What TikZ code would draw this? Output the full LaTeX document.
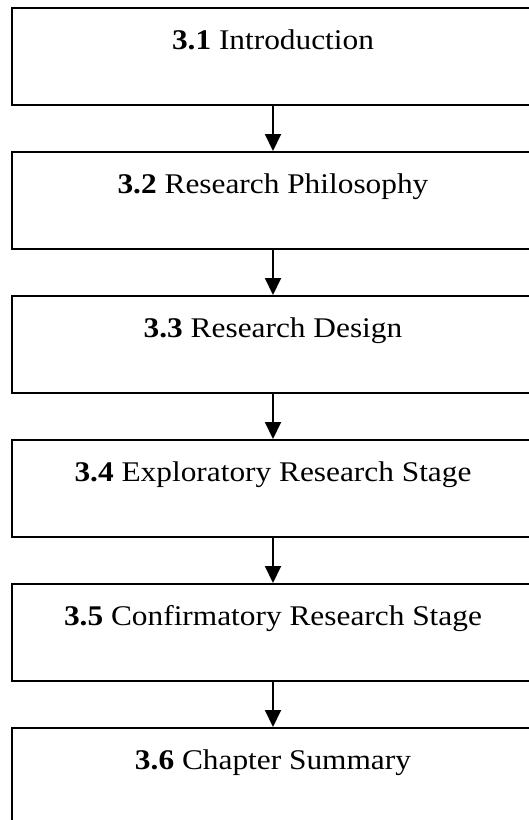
\documentclass[tikz,border=0pt]{standalone}
\usepackage{fontspec}
\setmainfont[FakeStretch=1.1]{Liberation Serif}
\usetikzlibrary{arrows.meta}
\begin{document}
\begin{tikzpicture}[x=1pt,y=-1pt,
  stagebox/.style={draw, line width=2pt, rectangle, inner sep=0pt,
    minimum width=522pt, minimum height=97pt,
    text height=41pt, text depth=56pt, anchor=north,
    font=\fontsize{28.5}{32}\selectfont},
  flow/.style={line width=2pt, -{Triangle[width=16pt,length=17pt]}}]
\useasboundingbox (0,0) rectangle (529,820);
\clip (0,0) rectangle (529,820);
\node[stagebox] (s1) at (273,7)   {\textbf{3.1} Introduction};
\node[stagebox] (s2) at (273,151) {\textbf{3.2} Research Philosophy};
\node[stagebox] (s3) at (273,295) {\textbf{3.3} Research Design};
\node[stagebox] (s4) at (273,439) {\textbf{3.4} Exploratory Research Stage};
\node[stagebox] (s5) at (273,583) {\textbf{3.5} Confirmatory Research Stage};
\node[stagebox] (s6) at (273,727) {\textbf{3.6} Chapter Summary};
\draw[flow] (s1.south) -- (s2.north);
\draw[flow] (s2.south) -- (s3.north);
\draw[flow] (s3.south) -- (s4.north);
\draw[flow] (s4.south) -- (s5.north);
\draw[flow] (s5.south) -- (s6.north);
\end{tikzpicture}
\end{document}
